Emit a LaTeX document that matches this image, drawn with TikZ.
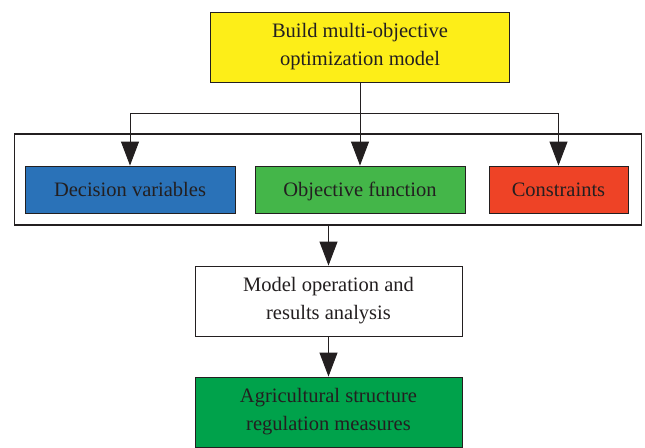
\documentclass[tikz,border=0pt]{standalone}
\usepackage{fontspec}
\setmainfont{Liberation Serif}
\usetikzlibrary{arrows.meta}

\definecolor{boxyellow}{HTML}{FDEE18}
\definecolor{boxblue}{HTML}{2A72B8}
\definecolor{boxgreen}{HTML}{44B649}
\definecolor{boxred}{HTML}{EE4326}
\definecolor{boxdark}{HTML}{00A24B}
\definecolor{ink}{HTML}{231F20}

\begin{document}
\begin{tikzpicture}[x=1pt, y=1pt,
    box/.style={draw=ink, line width=0.9pt, rectangle, align=center, text=ink,
                font=\fontsize{20.5}{28}\selectfont, inner sep=0pt},
    single/.style={box, minimum height=47pt, text height=16pt, text depth=2.5pt},
    arrow/.style={draw=ink, line width=0.9pt, -{Triangle[width=18pt,length=24pt]}}]
  \clip (0,0) rectangle (645,-447);
  \fill[white] (0,0) rectangle (645,-447);

  % top of the flow
  \node[box, fill=boxyellow, minimum width=299pt, minimum height=70pt] (build) at (360,-47)
    {Build multi-objective\\optimization model};

  % three parts of the model
  \node[draw=ink, line width=1.1pt, minimum width=627pt, minimum height=91pt] (group) at (328,-179.5) {};
  \node[single, fill=boxblue, minimum width=210pt] (decision) at (130,-189.5) {Decision variables};
  \node[single, fill=boxgreen, minimum width=210pt] (objective) at (360,-189.5) {Objective function};
  \node[single, fill=boxred, minimum width=139pt] (constraints) at (558.5,-189.5) {Constraints};

  \node[box, fill=white, minimum width=267pt, minimum height=70pt] (model) at (328.5,-301)
    {Model operation and\\results analysis};
  \node[box, fill=boxdark, minimum width=267pt, minimum height=70pt] (measures) at (328.5,-412)
    {Agricultural structure\\regulation measures};

  \coordinate (split) at (360,-113);
  \draw[arrow] (build) -- (objective);
  \draw[arrow] (split) -| (decision);
  \draw[arrow] (split) -| (constraints);
  \draw[arrow] (group.south -| model.north) -- (model);
  \draw[arrow] (model) -- (measures);
\end{tikzpicture}
\end{document}
